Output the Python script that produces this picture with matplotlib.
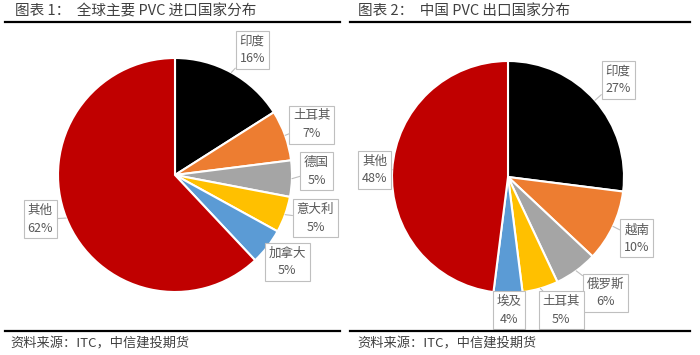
import numpy as np
import matplotlib
matplotlib.use('Agg')
import matplotlib.pyplot as plt

plt.rcParams['font.family'] = ['Noto Sans CJK SC', 'DejaVu Sans']

# data
import_names = ['印度', '土耳其', '德国', '意大利', '加拿大', '其他']
import_share = [16, 7, 5, 5, 5, 62]
export_names = ['印度', '越南', '俄罗斯', '土耳其', '埃及', '其他']
export_share = [27, 10, 6, 5, 4, 48]

colors = ['#000000', '#ED7D31', '#A5A5A5', '#FFC000', '#5B9BD5', '#C00000']

W, H = 700, 355
fig = plt.figure(figsize=(7, 3.55), dpi=100)


def pie_axes(cx, cy, r):
    ax = fig.add_axes([(cx - r) / W, (H - cy - r) / H, 2 * r / W, 2 * r / H])
    return ax


def draw_pie(ax, names, vals, label_pos):
    wedges, _ = ax.pie(vals, colors=colors, startangle=90, counterclock=False,
                       radius=1, wedgeprops=dict(edgecolor='white', linewidth=1.5))
    ax.set_xlim(-1, 1)
    ax.set_ylim(-1, 1)
    ax.axis('off')
    for w, name, v, (lx, ly) in zip(wedges, names, vals, label_pos):
        ang = np.deg2rad((w.theta1 + w.theta2) / 2)
        px, py = 1.0 * np.cos(ang), 1.0 * np.sin(ang)
        ax.annotate(f'{name}\n{v}%', xy=(px, py), xytext=(lx, ly),
                    ha='center', va='center', fontsize=9, color='#595959',
                    linespacing=1.45, annotation_clip=False,
                    bbox=dict(boxstyle='square,pad=0.3', fc='white', ec='#BFBFBF', lw=0.8),
                    arrowprops=dict(arrowstyle='-', color='#BFBFBF', lw=0.8,
                                    shrinkA=0, shrinkB=0))


ax1 = pie_axes(175, 175, 117)
draw_pie(ax1, import_names, import_share,
         [(0.66, 1.07), (1.17, 0.43), (1.21, 0.03), (1.20, -0.37), (0.96, -0.74), (-1.15, -0.38)])

ax2 = pie_axes(508, 177, 116)
draw_pie(ax2, export_names, export_share,
         [(0.95, 0.84), (1.11, -0.53), (0.84, -1.0), (0.46, -1.15), (0.01, -1.15), (-1.15, 0.06)])

# titles, rules, sources
fig.text(15 / W, 1 - 11 / H, '图表 1：  全球主要 PVC 进口国家分布', fontsize=10.5,
         color='#404040', va='center', ha='left')
fig.text(358 / W, 1 - 11 / H, '图表 2：  中国 PVC 出口国家分布', fontsize=10.5,
         color='#404040', va='center', ha='left')
for x0, x1 in [(5, 340), (350, 690)]:
    fig.add_artist(plt.Line2D([x0 / W, x1 / W], [1 - 22 / H, 1 - 22 / H], color='black', lw=1.6))
    fig.add_artist(plt.Line2D([x0 / W, x1 / W], [1 - 331 / H, 1 - 331 / H], color='black', lw=1.6))

fig.text(10 / W, 1 - 344 / H, '资料来源：ITC，中信建投期货', fontsize=9.5,
         color='#404040', va='center', ha='left', style='italic')
fig.text(357 / W, 1 - 344 / H, '资料来源：ITC，中信建投期货', fontsize=9.5,
         color='#404040', va='center', ha='left', style='italic')

fig.savefig('out.png', dpi=100, facecolor='white')
